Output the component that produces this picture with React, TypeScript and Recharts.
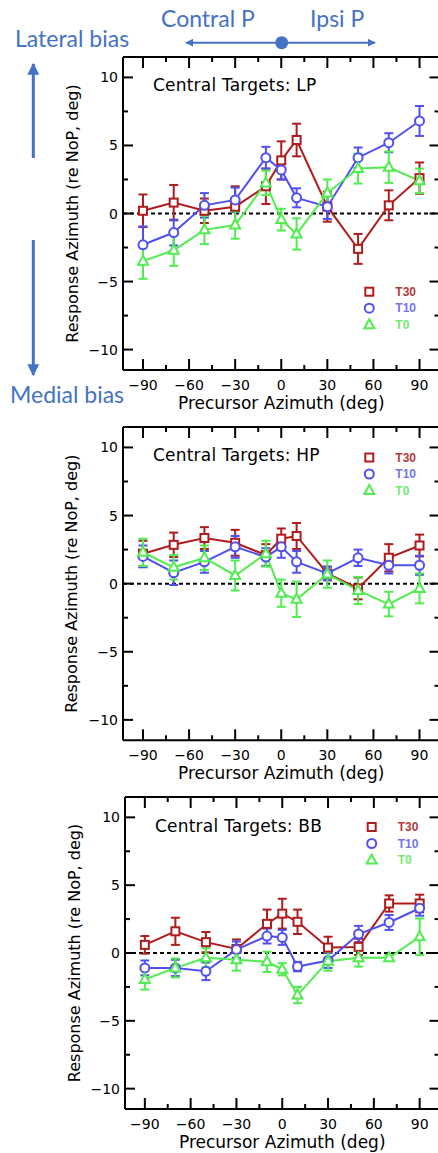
import React from 'react';
import { LineChart, Line, XAxis, YAxis, ErrorBar, ReferenceLine } from 'recharts';

// precursor azimuths (deg) and axis ticks
const azimuths = [-90, -70, -50, -30, -10, 0, 10, 30, 50, 70, 90];
const xTicks = [-90, -75, -60, -45, -30, -15, 0, 15, 30, 45, 60, 75, 90];
const yTicks = [-10, -7.5, -5, -2.5, 0, 2.5, 5, 7.5, 10];

// Central Targets: LP
const lpT30 = [0.2, 0.8, 0.2, 0.5, 2.0, 3.9, 5.4, 0.5, -2.6, 0.6, 2.6];
const lpT30Err = [1.2, 1.3, 0.9, 1.5, 1.3, 1.4, 1.2, 1.1, 1.1, 1.1, 1.15];
const lpT10 = [-2.3, -1.4, 0.6, 1.0, 4.1, 3.2, 1.15, 0.5, 4.1, 5.2, 6.8];
const lpT10Err = [1.35, 0.95, 0.9, 0.9, 0.8, 0.7, 0.7, 0.9, 0.75, 0.7, 1.1];
const lpT0 = [-3.5, -2.7, -1.2, -0.85, 2.25, -0.45, -1.5, 1.5, 3.3, 3.4, 2.4];
const lpT0Err = [1.3, 1.15, 1.05, 1.0, 0.9, 0.8, 1.15, 1.0, 1.1, 1.15, 0.9];

// Central Targets: HP
const hpT30 = [2.2, 2.85, 3.35, 3.0, 2.1, 3.3, 3.5, 0.75, -0.35, 1.9, 2.8];
const hpT30Err = [0.95, 0.9, 0.8, 0.95, 0.8, 0.75, 0.95, 0.5, 0.8, 1.0, 0.8];
const hpT10 = [2.0, 0.8, 1.6, 2.7, 1.95, 2.7, 1.6, 0.75, 1.9, 1.35, 1.35];
const hpT10Err = [0.8, 0.9, 0.8, 0.8, 0.65, 0.8, 0.8, 0.5, 0.6, 0.6, 0.7];
const hpT0 = [2.3, 1.2, 1.9, 0.6, 2.2, -0.7, -1.15, 0.7, -0.5, -1.5, -0.35];
const hpT0Err = [1.0, 0.9, 0.9, 1.1, 0.95, 1.0, 1.3, 1.0, 1.0, 0.9, 1.1];

// Central Targets: BB
const bbT30 = [0.6, 1.6, 0.8, 0.3, 2.15, 2.9, 2.3, 0.4, 0.45, 3.65, 3.65];
const bbT30Err = [0.65, 1.0, 0.75, 0.7, 1.05, 1.1, 0.9, 0.8, 0.6, 0.6, 0.65];
const bbT10 = [-1.1, -1.1, -1.35, 0.25, 1.25, 1.15, -1.0, -0.55, 1.4, 2.25, 3.3];
const bbT10Err = [0.55, 0.6, 0.65, 0.6, 0.55, 0.55, 0.35, 0.55, 0.6, 0.55, 0.55];
const bbT0 = [-1.95, -1.1, -0.35, -0.5, -0.65, -1.2, -3.1, -0.6, -0.35, -0.35, 1.2];
const bbT0Err = [0.75, 0.7, 0.7, 0.8, 0.75, 0.45, 0.6, 0.7, 0.65, 0.2, 1.35];

const FONT = '"DejaVu Sans", sans-serif';
const NOTE = '#4472c4';
const RED = '#b01c1c';
const BLUE = '#5050f2';
const GREEN = '#50ec50';

const fmt = (v: number) => (v < 0 ? '\u2212' + Math.abs(v) : String(v));

const buildRows = (t30: number[], t30e: number[], t10: number[], t10e: number[], t0: number[], t0e: number[]) =>
  azimuths.map((az, i) => ({ az, t30: t30[i], t30e: t30e[i], t10: t10[i], t10e: t10e[i], t0: t0[i], t0e: t0e[i] }));

// ticks point inwards, like the original IDL frame
const BottomTick = (p: any) => {
  const major = p.payload.value % 30 === 0;
  return (
    <g>
      <line x1={p.x} y1={p.y} x2={p.x} y2={p.y - (major ? 11 : 5)} stroke="#000" strokeWidth={2} />
      {major && (
        <text x={p.x} y={p.y + 15} textAnchor="middle" dominantBaseline="central" fontFamily={FONT} fontSize={14} fill="#000">
          {fmt(p.payload.value)}
        </text>
      )}
    </g>
  );
};
const TopTick = (p: any) => {
  const major = p.payload.value % 30 === 0;
  return <line x1={p.x} y1={p.y} x2={p.x} y2={p.y + (major ? 11 : 5)} stroke="#000" strokeWidth={2} />;
};
const LeftTick = (p: any) => {
  const major = p.payload.value % 5 === 0;
  return (
    <g>
      <line x1={p.x} y1={p.y} x2={p.x + (major ? 10 : 5)} y2={p.y} stroke="#000" strokeWidth={2} />
      {major && (
        <text x={p.x - 5} y={p.y} textAnchor="end" dominantBaseline="central" fontFamily={FONT} fontSize={14} fill="#000">
          {fmt(p.payload.value)}
        </text>
      )}
    </g>
  );
};
const RightTick = (p: any) => {
  const major = p.payload.value % 5 === 0;
  return <line x1={p.x} y1={p.y} x2={p.x - (major ? 10 : 5)} y2={p.y} stroke="#000" strokeWidth={2} />;
};

const squareDot = (color: string) => (p: any) => (
  <rect key={'s' + p.index} x={p.cx - 4} y={p.cy - 4} width={8} height={8} fill="#fff" stroke={color} strokeWidth={2} />
);
const circleDot = (color: string) => (p: any) => (
  <circle key={'c' + p.index} cx={p.cx} cy={p.cy} r={4.5} fill="#fff" stroke={color} strokeWidth={2} />
);
const triangleDot = (color: string) => (p: any) => (
  <polygon
    key={'t' + p.index}
    points={`${p.cx},${p.cy - 5.5} ${p.cx - 5},${p.cy + 3.5} ${p.cx + 5},${p.cy + 3.5}`}
    fill="#fff"
    stroke={color}
    strokeWidth={2}
  />
);

const xLabel = (p: any) => (
  <text x={p.viewBox.x + p.viewBox.width / 2} y={p.viewBox.y + 39} textAnchor="middle" fontFamily={FONT} fontSize={17} fill="#000">
    Precursor Azimuth (deg)
  </text>
);
const yLabel = (p: any) => {
  const x = p.viewBox.x + 9;
  const y = p.viewBox.y + p.viewBox.height / 2;
  return (
    <text x={x} y={y} transform={`rotate(-90 ${x} ${y})`} textAnchor="middle" dominantBaseline="central" fontFamily={FONT} fontSize={16} fill="#000">
      Response Azimuth (re NoP, deg)
    </text>
  );
};

interface PanelProps {
  rows: any[];
  plotTop: number;
  plotBottom: number;
  plotLeft: number;
  plotRight: number;
}

const CHART_W = 450;
const frame = { stroke: '#000', strokeWidth: 2 };

function Panel({ rows, plotTop, plotBottom, plotLeft, plotRight }: PanelProps) {
  const plotH = plotBottom - plotTop;
  return (
    <div style={{ position: 'absolute', left: 0, top: plotTop - 10 }}>
      <LineChart
        width={CHART_W}
        height={plotH + 65}
        data={rows}
        margin={{ top: 9, right: CHART_W - plotRight - 1, bottom: 5, left: plotLeft - 60 }}
      >
        <XAxis xAxisId="b" dataKey="az" type="number" domain={[-103, 103]} allowDataOverflow ticks={xTicks} interval={0}
          tickSize={0} tickMargin={0} tickLine={false} tick={BottomTick} height={50} axisLine={frame} label={{ content: xLabel }} />
        <XAxis xAxisId="t" orientation="top" dataKey="az" type="number" domain={[-103, 103]} allowDataOverflow ticks={xTicks}
          interval={0} tickSize={0} tickMargin={0} tickLine={false} tick={TopTick} height={1} axisLine={frame} />
        <YAxis yAxisId="l" type="number" domain={[-11.5, 11.5]} allowDataOverflow ticks={yTicks} interval={0}
          tickSize={0} tickMargin={0} tickLine={false} tick={LeftTick} width={60} axisLine={frame} label={{ content: yLabel }} />
        <YAxis yAxisId="r" orientation="right" type="number" domain={[-11.5, 11.5]} allowDataOverflow ticks={yTicks}
          interval={0} tickSize={0} tickMargin={0} tickLine={false} tick={RightTick} width={1} axisLine={frame} />
        <ReferenceLine xAxisId="b" yAxisId="l" y={0} stroke="#000" strokeWidth={2} strokeDasharray="4 3" />
        <Line xAxisId="b" yAxisId="l" dataKey="t30" stroke={RED} strokeWidth={2} dot={squareDot(RED)} isAnimationActive={false}>
          <ErrorBar dataKey="t30e" width={4.5} stroke={RED} strokeWidth={2} />
        </Line>
        <Line xAxisId="b" yAxisId="l" dataKey="t10" stroke={BLUE} strokeWidth={2} dot={circleDot(BLUE)} isAnimationActive={false}>
          <ErrorBar dataKey="t10e" width={4.5} stroke={BLUE} strokeWidth={2} />
        </Line>
        <Line xAxisId="b" yAxisId="l" dataKey="t0" stroke={GREEN} strokeWidth={2} dot={triangleDot(GREEN)} isAnimationActive={false}>
          <ErrorBar dataKey="t0e" width={4.5} stroke={GREEN} strokeWidth={2} />
        </Line>
      </LineChart>
    </div>
  );
}

// title and legend drawn over each frame
function PanelKey({ title, titleX, titleY, keyX, keyY }: { title: string; titleX: number; titleY: number; keyX: number; keyY: number }) {
  const rows = [
    { label: 'T30', color: RED, text: '#b83a3a' },
    { label: 'T10', color: BLUE, text: '#7474ee' },
    { label: 'T0', color: GREEN, text: '#72ea72' },
  ];
  return (
    <g>
      <text x={titleX} y={titleY} dominantBaseline="central" fontFamily={FONT} fontSize={17} letterSpacing={0.2} fill="#000">
        {title}
      </text>
      {rows.map((r, i) => {
        const y = keyY + i * 16.5;
        const x = keyX;
        return (
          <g key={r.label}>
            {i === 0 && <rect x={x - 4} y={y - 4} width={8} height={8} fill="#fff" stroke={r.color} strokeWidth={2} />}
            {i === 1 && <circle cx={x} cy={y} r={4.5} fill="#fff" stroke={r.color} strokeWidth={2} />}
            {i === 2 && <polygon points={`${x},${y - 5.5} ${x - 5},${y + 3.5} ${x + 5},${y + 3.5}`} fill="#fff" stroke={r.color} strokeWidth={2} />}
            <text x={x + 26} y={y} dominantBaseline="central" fontFamily='"Liberation Sans", sans-serif' fontWeight="bold" fontSize={12} fill={r.text}>
              {r.label}
            </text>
          </g>
        );
      })}
    </g>
  );
}

export default function App() {
  const lp = buildRows(lpT30, lpT30Err, lpT10, lpT10Err, lpT0, lpT0Err);
  const hp = buildRows(hpT30, hpT30Err, hpT10, hpT10Err, hpT0, hpT0Err);
  const bb = buildRows(bbT30, bbT30Err, bbT10, bbT10Err, bbT0, bbT0Err);
  const noteFont = 'Lato, "Open Sans", sans-serif';

  return (
    <div style={{ position: 'absolute', left: 0, top: 0, width: 438, height: 1153, overflow: 'hidden', background: '#fff' }}>
      <Panel rows={lp} plotTop={57} plotBottom={370} plotLeft={123} plotRight={439.5} />
      <Panel rows={hp} plotTop={426.7} plotBottom={740} plotLeft={123} plotRight={439.5} />
      <Panel rows={bb} plotTop={797.3} plotBottom={1109.3} plotLeft={125} plotRight={439.5} />
      <svg width={438} height={1153} style={{ position: 'absolute', left: 0, top: 0, pointerEvents: 'none' }}>
        <defs>
          <marker id="head" viewBox="0 0 10 10" refX="9" refY="5" markerWidth="4" markerHeight="4" orient="auto-start-reverse">
            <path d="M0,0 L10,5 L0,10 z" fill={NOTE} />
          </marker>
        </defs>
        <text x={161} y={26.7} fontFamily={noteFont} fontSize={23} fill={NOTE}>Contral P</text>
        <text x={310} y={26.7} fontFamily={noteFont} fontSize={23} fill={NOTE}>Ipsi P</text>
        <line x1={186} y1={42.7} x2={375} y2={42.7} stroke={NOTE} strokeWidth={2} markerStart="url(#head)" markerEnd="url(#head)" />
        <circle cx={281.7} cy={42.7} r={6.5} fill={NOTE} />
        <text x={15} y={46.7} fontFamily={noteFont} fontSize={23} fill={NOTE}>Lateral bias</text>
        <line x1={33.3} y1={158} x2={33.3} y2={64} stroke={NOTE} strokeWidth={3} markerEnd="url(#head)" />
        <line x1={33.3} y1={240} x2={33.3} y2={375} stroke={NOTE} strokeWidth={3} markerEnd="url(#head)" />
        <text x={10} y={403.3} fontFamily={noteFont} fontSize={23} fill={NOTE}>Medial bias</text>
        <PanelKey title="Central Targets: LP" titleX={153} titleY={85} keyX={369.3} keyY={291.7} />
        <PanelKey title="Central Targets: HP" titleX={153} titleY={455} keyX={369.3} keyY={457.5} />
        <PanelKey title="Central Targets: BB" titleX={155} titleY={826} keyX={371.7} keyY={827} />
      </svg>
    </div>
  );
}
